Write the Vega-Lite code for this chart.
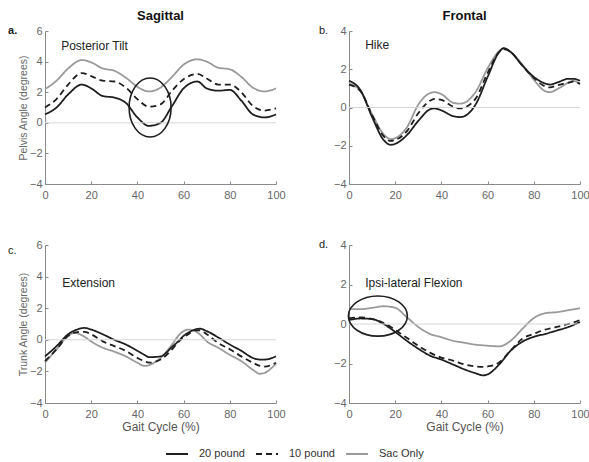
{
"$schema":"https://vega.github.io/schema/vega-lite/v6.json",
"padding":{"left":8,"top":10,"right":2,"bottom":2},
"config":{"font":"Liberation Sans","view":{"stroke":null},
"axis":{"grid":false,"domainColor":"#8a8a8a","tickColor":"#8a8a8a","labelColor":"#666","labelFont":"Liberation Sans","labelFontSize":11,"titleFont":"Liberation Sans","titleFontWeight":"normal","titleColor":"#555","tickSize":-3},
"axisX":{"labelPadding":8},
"axisY":{"labelPadding":6},
"legend":{"orient":"none","legendX":120,"legendY":411,"direction":"horizontal","symbolType":"stroke","symbolSize":484,"labelFontSize":11,"labelColor":"#333","labelOffset":10,"columnPadding":7,"labelFont":"Liberation Sans"},
"title":{"font":"Liberation Sans","fontSize":13,"fontWeight":"bold","color":"#111"}},
"datasets":{"d":[
{"p":"a","s":"Sac Only","x":0,"y":2.2},{"p":"a","s":"Sac Only","x":5,"y":2.75},{"p":"a","s":"Sac Only","x":10,"y":3.55},{"p":"a","s":"Sac Only","x":16,"y":4.1},{"p":"a","s":"Sac Only","x":20,"y":3.95},{"p":"a","s":"Sac Only","x":25,"y":3.55},{"p":"a","s":"Sac Only","x":30,"y":3.4},{"p":"a","s":"Sac Only","x":35,"y":2.95},{"p":"a","s":"Sac Only","x":40,"y":2.35},{"p":"a","s":"Sac Only","x":45,"y":2.05},{"p":"a","s":"Sac Only","x":50,"y":2.3},{"p":"a","s":"Sac Only","x":55,"y":3.0},{"p":"a","s":"Sac Only","x":60,"y":3.8},{"p":"a","s":"Sac Only","x":66,"y":4.15},{"p":"a","s":"Sac Only","x":70,"y":4.0},{"p":"a","s":"Sac Only","x":75,"y":3.6},{"p":"a","s":"Sac Only","x":80,"y":3.5},{"p":"a","s":"Sac Only","x":85,"y":3.0},{"p":"a","s":"Sac Only","x":90,"y":2.3},{"p":"a","s":"Sac Only","x":95,"y":2.05},{"p":"a","s":"Sac Only","x":100,"y":2.25},
{"p":"a","s":"10 pound","x":0,"y":1.0},{"p":"a","s":"10 pound","x":5,"y":1.55},{"p":"a","s":"10 pound","x":10,"y":2.5},{"p":"a","s":"10 pound","x":16,"y":3.25},{"p":"a","s":"10 pound","x":20,"y":3.05},{"p":"a","s":"10 pound","x":25,"y":2.75},{"p":"a","s":"10 pound","x":30,"y":2.7},{"p":"a","s":"10 pound","x":35,"y":2.3},{"p":"a","s":"10 pound","x":40,"y":1.55},{"p":"a","s":"10 pound","x":45,"y":1.05},{"p":"a","s":"10 pound","x":50,"y":1.2},{"p":"a","s":"10 pound","x":55,"y":2.1},{"p":"a","s":"10 pound","x":60,"y":2.85},{"p":"a","s":"10 pound","x":66,"y":3.2},{"p":"a","s":"10 pound","x":70,"y":2.9},{"p":"a","s":"10 pound","x":75,"y":2.5},{"p":"a","s":"10 pound","x":80,"y":2.5},{"p":"a","s":"10 pound","x":85,"y":2.0},{"p":"a","s":"10 pound","x":90,"y":1.1},{"p":"a","s":"10 pound","x":95,"y":0.8},{"p":"a","s":"10 pound","x":100,"y":0.95},
{"p":"a","s":"20 pound","x":0,"y":0.55},{"p":"a","s":"20 pound","x":5,"y":1.0},{"p":"a","s":"20 pound","x":10,"y":1.85},{"p":"a","s":"20 pound","x":16,"y":2.5},{"p":"a","s":"20 pound","x":20,"y":2.25},{"p":"a","s":"20 pound","x":25,"y":1.75},{"p":"a","s":"20 pound","x":30,"y":1.65},{"p":"a","s":"20 pound","x":35,"y":1.3},{"p":"a","s":"20 pound","x":40,"y":0.35},{"p":"a","s":"20 pound","x":45,"y":-0.2},{"p":"a","s":"20 pound","x":50,"y":0.0},{"p":"a","s":"20 pound","x":55,"y":1.1},{"p":"a","s":"20 pound","x":60,"y":2.25},{"p":"a","s":"20 pound","x":66,"y":2.7},{"p":"a","s":"20 pound","x":70,"y":2.25},{"p":"a","s":"20 pound","x":75,"y":2.1},{"p":"a","s":"20 pound","x":80,"y":2.15},{"p":"a","s":"20 pound","x":85,"y":1.45},{"p":"a","s":"20 pound","x":90,"y":0.55},{"p":"a","s":"20 pound","x":95,"y":0.35},{"p":"a","s":"20 pound","x":100,"y":0.55},
{"p":"b","s":"Sac Only","x":0,"y":1.25},{"p":"b","s":"Sac Only","x":5,"y":0.85},{"p":"b","s":"Sac Only","x":10,"y":-0.35},{"p":"b","s":"Sac Only","x":15,"y":-1.4},{"p":"b","s":"Sac Only","x":18,"y":-1.65},{"p":"b","s":"Sac Only","x":20,"y":-1.6},{"p":"b","s":"Sac Only","x":25,"y":-1.05},{"p":"b","s":"Sac Only","x":30,"y":0.15},{"p":"b","s":"Sac Only","x":35,"y":0.75},{"p":"b","s":"Sac Only","x":37,"y":0.8},{"p":"b","s":"Sac Only","x":40,"y":0.7},{"p":"b","s":"Sac Only","x":45,"y":0.25},{"p":"b","s":"Sac Only","x":48,"y":0.2},{"p":"b","s":"Sac Only","x":50,"y":0.25},{"p":"b","s":"Sac Only","x":55,"y":0.85},{"p":"b","s":"Sac Only","x":60,"y":2.05},{"p":"b","s":"Sac Only","x":65,"y":2.95},{"p":"b","s":"Sac Only","x":67,"y":3.1},{"p":"b","s":"Sac Only","x":70,"y":2.9},{"p":"b","s":"Sac Only","x":75,"y":2.25},{"p":"b","s":"Sac Only","x":80,"y":1.45},{"p":"b","s":"Sac Only","x":85,"y":0.85},{"p":"b","s":"Sac Only","x":87,"y":0.8},{"p":"b","s":"Sac Only","x":90,"y":0.95},{"p":"b","s":"Sac Only","x":95,"y":1.3},{"p":"b","s":"Sac Only","x":97,"y":1.4},{"p":"b","s":"Sac Only","x":100,"y":1.2},
{"p":"b","s":"10 pound","x":0,"y":1.2},{"p":"b","s":"10 pound","x":5,"y":0.85},{"p":"b","s":"10 pound","x":10,"y":-0.4},{"p":"b","s":"10 pound","x":15,"y":-1.5},{"p":"b","s":"10 pound","x":18,"y":-1.75},{"p":"b","s":"10 pound","x":20,"y":-1.7},{"p":"b","s":"10 pound","x":25,"y":-1.25},{"p":"b","s":"10 pound","x":30,"y":-0.3},{"p":"b","s":"10 pound","x":35,"y":0.35},{"p":"b","s":"10 pound","x":37,"y":0.45},{"p":"b","s":"10 pound","x":40,"y":0.4},{"p":"b","s":"10 pound","x":45,"y":0.05},{"p":"b","s":"10 pound","x":48,"y":-0.05},{"p":"b","s":"10 pound","x":50,"y":0.0},{"p":"b","s":"10 pound","x":55,"y":0.5},{"p":"b","s":"10 pound","x":60,"y":1.8},{"p":"b","s":"10 pound","x":65,"y":2.9},{"p":"b","s":"10 pound","x":67,"y":3.05},{"p":"b","s":"10 pound","x":70,"y":2.9},{"p":"b","s":"10 pound","x":75,"y":2.2},{"p":"b","s":"10 pound","x":80,"y":1.55},{"p":"b","s":"10 pound","x":85,"y":1.1},{"p":"b","s":"10 pound","x":87,"y":1.05},{"p":"b","s":"10 pound","x":90,"y":1.15},{"p":"b","s":"10 pound","x":95,"y":1.3},{"p":"b","s":"10 pound","x":97,"y":1.35},{"p":"b","s":"10 pound","x":100,"y":1.25},
{"p":"b","s":"20 pound","x":0,"y":1.4},{"p":"b","s":"20 pound","x":5,"y":0.9},{"p":"b","s":"20 pound","x":10,"y":-0.5},{"p":"b","s":"20 pound","x":15,"y":-1.7},{"p":"b","s":"20 pound","x":18,"y":-1.95},{"p":"b","s":"20 pound","x":20,"y":-1.9},{"p":"b","s":"20 pound","x":25,"y":-1.45},{"p":"b","s":"20 pound","x":30,"y":-0.7},{"p":"b","s":"20 pound","x":35,"y":-0.1},{"p":"b","s":"20 pound","x":37,"y":-0.05},{"p":"b","s":"20 pound","x":40,"y":-0.15},{"p":"b","s":"20 pound","x":45,"y":-0.45},{"p":"b","s":"20 pound","x":48,"y":-0.5},{"p":"b","s":"20 pound","x":50,"y":-0.45},{"p":"b","s":"20 pound","x":55,"y":0.2},{"p":"b","s":"20 pound","x":60,"y":1.6},{"p":"b","s":"20 pound","x":65,"y":2.9},{"p":"b","s":"20 pound","x":67,"y":3.1},{"p":"b","s":"20 pound","x":70,"y":2.9},{"p":"b","s":"20 pound","x":75,"y":2.2},{"p":"b","s":"20 pound","x":80,"y":1.6},{"p":"b","s":"20 pound","x":85,"y":1.25},{"p":"b","s":"20 pound","x":87,"y":1.2},{"p":"b","s":"20 pound","x":90,"y":1.3},{"p":"b","s":"20 pound","x":95,"y":1.5},{"p":"b","s":"20 pound","x":97,"y":1.5},{"p":"b","s":"20 pound","x":100,"y":1.4},
{"p":"c","s":"Sac Only","x":0,"y":-1.45},{"p":"c","s":"Sac Only","x":5,"y":-0.6},{"p":"c","s":"Sac Only","x":10,"y":0.25},{"p":"c","s":"Sac Only","x":13,"y":0.45},{"p":"c","s":"Sac Only","x":15,"y":0.35},{"p":"c","s":"Sac Only","x":17,"y":0.2},{"p":"c","s":"Sac Only","x":20,"y":-0.1},{"p":"c","s":"Sac Only","x":25,"y":-0.5},{"p":"c","s":"Sac Only","x":30,"y":-0.75},{"p":"c","s":"Sac Only","x":35,"y":-1.05},{"p":"c","s":"Sac Only","x":40,"y":-1.45},{"p":"c","s":"Sac Only","x":43,"y":-1.65},{"p":"c","s":"Sac Only","x":45,"y":-1.6},{"p":"c","s":"Sac Only","x":50,"y":-1.15},{"p":"c","s":"Sac Only","x":55,"y":-0.3},{"p":"c","s":"Sac Only","x":58,"y":0.3},{"p":"c","s":"Sac Only","x":60,"y":0.55},{"p":"c","s":"Sac Only","x":62,"y":0.65},{"p":"c","s":"Sac Only","x":65,"y":0.55},{"p":"c","s":"Sac Only","x":67,"y":0.35},{"p":"c","s":"Sac Only","x":70,"y":-0.1},{"p":"c","s":"Sac Only","x":75,"y":-0.5},{"p":"c","s":"Sac Only","x":80,"y":-0.95},{"p":"c","s":"Sac Only","x":85,"y":-1.35},{"p":"c","s":"Sac Only","x":90,"y":-1.9},{"p":"c","s":"Sac Only","x":93,"y":-2.15},{"p":"c","s":"Sac Only","x":95,"y":-2.1},{"p":"c","s":"Sac Only","x":100,"y":-1.5},
{"p":"c","s":"10 pound","x":0,"y":-1.35},{"p":"c","s":"10 pound","x":5,"y":-0.6},{"p":"c","s":"10 pound","x":10,"y":0.25},{"p":"c","s":"10 pound","x":13,"y":0.45},{"p":"c","s":"10 pound","x":15,"y":0.5},{"p":"c","s":"10 pound","x":17,"y":0.5},{"p":"c","s":"10 pound","x":20,"y":0.35},{"p":"c","s":"10 pound","x":25,"y":-0.1},{"p":"c","s":"10 pound","x":30,"y":-0.4},{"p":"c","s":"10 pound","x":35,"y":-0.7},{"p":"c","s":"10 pound","x":40,"y":-1.15},{"p":"c","s":"10 pound","x":43,"y":-1.35},{"p":"c","s":"10 pound","x":45,"y":-1.45},{"p":"c","s":"10 pound","x":50,"y":-1.25},{"p":"c","s":"10 pound","x":55,"y":-0.6},{"p":"c","s":"10 pound","x":58,"y":-0.1},{"p":"c","s":"10 pound","x":60,"y":0.15},{"p":"c","s":"10 pound","x":62,"y":0.35},{"p":"c","s":"10 pound","x":65,"y":0.6},{"p":"c","s":"10 pound","x":67,"y":0.6},{"p":"c","s":"10 pound","x":70,"y":0.35},{"p":"c","s":"10 pound","x":75,"y":-0.2},{"p":"c","s":"10 pound","x":80,"y":-0.6},{"p":"c","s":"10 pound","x":85,"y":-1.05},{"p":"c","s":"10 pound","x":90,"y":-1.45},{"p":"c","s":"10 pound","x":93,"y":-1.65},{"p":"c","s":"10 pound","x":95,"y":-1.7},{"p":"c","s":"10 pound","x":100,"y":-1.45},
{"p":"c","s":"20 pound","x":0,"y":-1.05},{"p":"c","s":"20 pound","x":5,"y":-0.4},{"p":"c","s":"20 pound","x":10,"y":0.35},{"p":"c","s":"20 pound","x":13,"y":0.6},{"p":"c","s":"20 pound","x":15,"y":0.7},{"p":"c","s":"20 pound","x":17,"y":0.75},{"p":"c","s":"20 pound","x":20,"y":0.65},{"p":"c","s":"20 pound","x":25,"y":0.35},{"p":"c","s":"20 pound","x":30,"y":0.0},{"p":"c","s":"20 pound","x":35,"y":-0.3},{"p":"c","s":"20 pound","x":40,"y":-0.7},{"p":"c","s":"20 pound","x":43,"y":-0.95},{"p":"c","s":"20 pound","x":45,"y":-1.1},{"p":"c","s":"20 pound","x":50,"y":-1.05},{"p":"c","s":"20 pound","x":55,"y":-0.45},{"p":"c","s":"20 pound","x":58,"y":-0.05},{"p":"c","s":"20 pound","x":60,"y":0.25},{"p":"c","s":"20 pound","x":62,"y":0.45},{"p":"c","s":"20 pound","x":65,"y":0.65},{"p":"c","s":"20 pound","x":67,"y":0.7},{"p":"c","s":"20 pound","x":70,"y":0.55},{"p":"c","s":"20 pound","x":75,"y":0.15},{"p":"c","s":"20 pound","x":80,"y":-0.3},{"p":"c","s":"20 pound","x":85,"y":-0.7},{"p":"c","s":"20 pound","x":90,"y":-1.15},{"p":"c","s":"20 pound","x":93,"y":-1.25},{"p":"c","s":"20 pound","x":95,"y":-1.25},{"p":"c","s":"20 pound","x":100,"y":-1.05},
{"p":"d","s":"Sac Only","x":0,"y":0.75},{"p":"d","s":"Sac Only","x":5,"y":0.75},{"p":"d","s":"Sac Only","x":10,"y":0.82},{"p":"d","s":"Sac Only","x":15,"y":0.9},{"p":"d","s":"Sac Only","x":20,"y":0.82},{"p":"d","s":"Sac Only","x":25,"y":0.35},{"p":"d","s":"Sac Only","x":30,"y":-0.15},{"p":"d","s":"Sac Only","x":35,"y":-0.5},{"p":"d","s":"Sac Only","x":40,"y":-0.67},{"p":"d","s":"Sac Only","x":45,"y":-0.85},{"p":"d","s":"Sac Only","x":50,"y":-0.95},{"p":"d","s":"Sac Only","x":55,"y":-1.05},{"p":"d","s":"Sac Only","x":58,"y":-1.08},{"p":"d","s":"Sac Only","x":60,"y":-1.1},{"p":"d","s":"Sac Only","x":65,"y":-1.13},{"p":"d","s":"Sac Only","x":70,"y":-0.85},{"p":"d","s":"Sac Only","x":75,"y":-0.25},{"p":"d","s":"Sac Only","x":80,"y":0.3},{"p":"d","s":"Sac Only","x":85,"y":0.55},{"p":"d","s":"Sac Only","x":90,"y":0.6},{"p":"d","s":"Sac Only","x":95,"y":0.7},{"p":"d","s":"Sac Only","x":100,"y":0.8},
{"p":"d","s":"10 pound","x":0,"y":0.3},{"p":"d","s":"10 pound","x":5,"y":0.33},{"p":"d","s":"10 pound","x":10,"y":0.25},{"p":"d","s":"10 pound","x":15,"y":0.05},{"p":"d","s":"10 pound","x":20,"y":-0.3},{"p":"d","s":"10 pound","x":25,"y":-0.7},{"p":"d","s":"10 pound","x":30,"y":-1.1},{"p":"d","s":"10 pound","x":35,"y":-1.45},{"p":"d","s":"10 pound","x":40,"y":-1.7},{"p":"d","s":"10 pound","x":45,"y":-1.85},{"p":"d","s":"10 pound","x":50,"y":-2.05},{"p":"d","s":"10 pound","x":55,"y":-2.15},{"p":"d","s":"10 pound","x":58,"y":-2.17},{"p":"d","s":"10 pound","x":60,"y":-2.15},{"p":"d","s":"10 pound","x":65,"y":-1.95},{"p":"d","s":"10 pound","x":70,"y":-1.35},{"p":"d","s":"10 pound","x":75,"y":-0.75},{"p":"d","s":"10 pound","x":80,"y":-0.5},{"p":"d","s":"10 pound","x":85,"y":-0.28},{"p":"d","s":"10 pound","x":90,"y":-0.15},{"p":"d","s":"10 pound","x":95,"y":0.0},{"p":"d","s":"10 pound","x":100,"y":0.2},
{"p":"d","s":"20 pound","x":0,"y":0.2},{"p":"d","s":"20 pound","x":5,"y":0.28},{"p":"d","s":"20 pound","x":10,"y":0.25},{"p":"d","s":"20 pound","x":15,"y":0.0},{"p":"d","s":"20 pound","x":20,"y":-0.4},{"p":"d","s":"20 pound","x":25,"y":-0.85},{"p":"d","s":"20 pound","x":30,"y":-1.25},{"p":"d","s":"20 pound","x":35,"y":-1.6},{"p":"d","s":"20 pound","x":40,"y":-1.8},{"p":"d","s":"20 pound","x":45,"y":-2.05},{"p":"d","s":"20 pound","x":50,"y":-2.3},{"p":"d","s":"20 pound","x":55,"y":-2.5},{"p":"d","s":"20 pound","x":58,"y":-2.6},{"p":"d","s":"20 pound","x":60,"y":-2.55},{"p":"d","s":"20 pound","x":65,"y":-2.05},{"p":"d","s":"20 pound","x":70,"y":-1.35},{"p":"d","s":"20 pound","x":75,"y":-0.9},{"p":"d","s":"20 pound","x":80,"y":-0.65},{"p":"d","s":"20 pound","x":85,"y":-0.5},{"p":"d","s":"20 pound","x":90,"y":-0.33},{"p":"d","s":"20 pound","x":95,"y":-0.15},{"p":"d","s":"20 pound","x":100,"y":0.1}
]},
"resolve":{"scale":{"color":"shared","strokeDash":"shared","strokeWidth":"shared"}},
"spacing":39,
"vconcat":[
{"hconcat":[
{"width":231,"height":153,"title":{"text":"Sagittal","offset":2},
"layer":[
{"data":{"name":"d"},"transform":[{"filter":"datum.p==='a'"}],"mark":{"type":"line","interpolate":"monotone"},
"encoding":{"x":{"field":"x","type":"quantitative","scale":{"domain":[0,100]},"axis":{"values":[0,20,40,60,80,100],"labelFlush":false,"title":null}},
"y":{"field":"y","type":"quantitative","scale":{"domain":[-4,6]},"axis":{"values":[-4,-2,0,2,4,6],"title":"Pelvis Angle (degrees)","titleFontSize":10.5,"titleColor":"#666","titlePadding":1}},
"color":{"field":"s","type":"nominal","title":null,"scale":{"domain":["20 pound","10 pound","Sac Only"],"range":["#1e1e1e","#1e1e1e","#9a9a9a"]}},
"strokeDash":{"field":"s","type":"nominal","title":null,"scale":{"domain":["20 pound","10 pound","Sac Only"],"range":[[1,0],[6,4],[1,0]]}},
"strokeWidth":{"field":"s","type":"nominal","title":null,"scale":{"domain":["20 pound","10 pound","Sac Only"],"range":[1.8,1.8,1.4]}},
"order":{"field":"x","type":"quantitative"}}},
{"data":{"values":[{}]},"mark":{"type":"rule","color":"#d6d6d6","strokeWidth":1},"encoding":{"y":{"datum":0,"type":"quantitative","scale":{"domain":[-4,6]},"axis":{"values":[-4,-2,0,2,4,6],"title":"Pelvis Angle (degrees)","titleFontSize":10.5,"titleColor":"#666","titlePadding":1}}}},
{"data":{"values":[{}]},"mark":{"type":"point","shape":"M -0.712 0 A 0.712 1 0 1 1 0.712 0 A 0.712 1 0 1 1 -0.712 0 Z","size":3481,"filled":false,"stroke":"#1e1e1e","strokeWidth":1.6,"opacity":1},
"encoding":{"x":{"datum":45.5,"type":"quantitative","scale":{"domain":[0,100]},"axis":{"values":[0,20,40,60,80,100],"labelFlush":false,"title":null}},"y":{"datum":1.0,"type":"quantitative","scale":{"domain":[-4,6]},"axis":{"values":[-4,-2,0,2,4,6],"title":"Pelvis Angle (degrees)","titleFontSize":10.5,"titleColor":"#666","titlePadding":1}}}},
{"data":{"values":[{}]},"mark":{"type":"text","align":"left","baseline":"middle","fontSize":12,"color":"#222"},
"encoding":{"x":{"datum":7,"type":"quantitative","scale":{"domain":[0,100]},"axis":{"values":[0,20,40,60,80,100],"labelFlush":false,"title":null}},"y":{"datum":5,"type":"quantitative","scale":{"domain":[-4,6]},"axis":{"values":[-4,-2,0,2,4,6],"title":"Pelvis Angle (degrees)","titleFontSize":10.5,"titleColor":"#666","titlePadding":1}},"text":{"value":"Posterior Tilt"}}},
{"data":{"values":[{}]},"mark":{"type":"text","align":"left","baseline":"middle","fontSize":11,"fontWeight":"bold","color":"#222"},
"encoding":{"x":{"datum":-16,"type":"quantitative","scale":{"domain":[0,100]},"axis":{"values":[0,20,40,60,80,100],"labelFlush":false,"title":null}},"y":{"datum":6,"type":"quantitative","scale":{"domain":[-4,6]},"axis":{"values":[-4,-2,0,2,4,6],"title":"Pelvis Angle (degrees)","titleFontSize":10.5,"titleColor":"#666","titlePadding":1}},"text":{"value":"a."}}}
]},
{"width":231,"height":153,"title":{"text":"Frontal","offset":2},
"layer":[
{"data":{"name":"d"},"transform":[{"filter":"datum.p==='b'"}],"mark":{"type":"line","interpolate":"monotone"},
"encoding":{"x":{"field":"x","type":"quantitative","scale":{"domain":[0,100]},"axis":{"values":[0,20,40,60,80,100],"labelFlush":false,"title":null}},
"y":{"field":"y","type":"quantitative","scale":{"domain":[-4,4]},"axis":{"values":[-4,-2,0,2,4],"title":null}},
"color":{"field":"s","type":"nominal","title":null,"scale":{"domain":["20 pound","10 pound","Sac Only"],"range":["#1e1e1e","#1e1e1e","#9a9a9a"]}},
"strokeDash":{"field":"s","type":"nominal","title":null,"scale":{"domain":["20 pound","10 pound","Sac Only"],"range":[[1,0],[6,4],[1,0]]}},
"strokeWidth":{"field":"s","type":"nominal","title":null,"scale":{"domain":["20 pound","10 pound","Sac Only"],"range":[1.8,1.8,1.4]}},
"order":{"field":"x","type":"quantitative"}}},
{"data":{"values":[{}]},"mark":{"type":"rule","color":"#d6d6d6","strokeWidth":1},"encoding":{"y":{"datum":0,"type":"quantitative","scale":{"domain":[-4,4]},"axis":{"values":[-4,-2,0,2,4],"title":null}}}},
{"data":{"values":[{}]},"mark":{"type":"text","align":"left","baseline":"middle","fontSize":12,"color":"#222"},
"encoding":{"x":{"datum":7,"type":"quantitative","scale":{"domain":[0,100]},"axis":{"values":[0,20,40,60,80,100],"labelFlush":false,"title":null}},"y":{"datum":3.27,"type":"quantitative","scale":{"domain":[-4,4]},"axis":{"values":[-4,-2,0,2,4],"title":null}},"text":{"value":"Hike"}}},
{"data":{"values":[{}]},"mark":{"type":"text","align":"left","baseline":"middle","fontSize":11,"color":"#222"},
"encoding":{"x":{"datum":-13,"type":"quantitative","scale":{"domain":[0,100]},"axis":{"values":[0,20,40,60,80,100],"labelFlush":false,"title":null}},"y":{"datum":4,"type":"quantitative","scale":{"domain":[-4,4]},"axis":{"values":[-4,-2,0,2,4],"title":null}},"text":{"value":"b."}}}
]}
],"spacing":32},
{"hconcat":[
{"width":231,"height":158,
"layer":[
{"data":{"name":"d"},"transform":[{"filter":"datum.p==='c'"}],"mark":{"type":"line","interpolate":"monotone"},
"encoding":{"x":{"field":"x","type":"quantitative","scale":{"domain":[0,100]},"axis":{"values":[0,20,40,60,80,100],"labelFlush":false,"title":"Gait Cycle (%)","titleFontSize":12,"titlePadding":2}},
"y":{"field":"y","type":"quantitative","scale":{"domain":[-4,6]},"axis":{"values":[-4,-2,0,2,4,6],"title":"Trunk Angle (degrees)","titleFontSize":10.5,"titleColor":"#666","titlePadding":1}},
"color":{"field":"s","type":"nominal","title":null,"scale":{"domain":["20 pound","10 pound","Sac Only"],"range":["#1e1e1e","#1e1e1e","#9a9a9a"]}},
"strokeDash":{"field":"s","type":"nominal","title":null,"scale":{"domain":["20 pound","10 pound","Sac Only"],"range":[[1,0],[6,4],[1,0]]}},
"strokeWidth":{"field":"s","type":"nominal","title":null,"scale":{"domain":["20 pound","10 pound","Sac Only"],"range":[1.8,1.8,1.4]}},
"order":{"field":"x","type":"quantitative"}}},
{"data":{"values":[{}]},"mark":{"type":"rule","color":"#d6d6d6","strokeWidth":1},"encoding":{"y":{"datum":0,"type":"quantitative","scale":{"domain":[-4,6]},"axis":{"values":[-4,-2,0,2,4,6],"title":"Trunk Angle (degrees)","titleFontSize":10.5,"titleColor":"#666","titlePadding":1}}}},
{"data":{"values":[{}]},"mark":{"type":"text","align":"left","baseline":"middle","fontSize":12,"color":"#222"},
"encoding":{"x":{"datum":7.5,"type":"quantitative","scale":{"domain":[0,100]},"axis":{"values":[0,20,40,60,80,100],"labelFlush":false,"title":"Gait Cycle (%)","titleFontSize":12,"titlePadding":2}},"y":{"datum":3.6,"type":"quantitative","scale":{"domain":[-4,6]},"axis":{"values":[-4,-2,0,2,4,6],"title":"Trunk Angle (degrees)","titleFontSize":10.5,"titleColor":"#666","titlePadding":1}},"text":{"value":"Extension"}}},
{"data":{"values":[{}]},"mark":{"type":"text","align":"left","baseline":"middle","fontSize":11,"color":"#222"},
"encoding":{"x":{"datum":-16,"type":"quantitative","scale":{"domain":[0,100]},"axis":{"values":[0,20,40,60,80,100],"labelFlush":false,"title":"Gait Cycle (%)","titleFontSize":12,"titlePadding":2}},"y":{"datum":5.6,"type":"quantitative","scale":{"domain":[-4,6]},"axis":{"values":[-4,-2,0,2,4,6],"title":"Trunk Angle (degrees)","titleFontSize":10.5,"titleColor":"#666","titlePadding":1}},"text":{"value":"c."}}}
]},
{"width":231,"height":158,
"layer":[
{"data":{"name":"d"},"transform":[{"filter":"datum.p==='d'"}],"mark":{"type":"line","interpolate":"monotone"},
"encoding":{"x":{"field":"x","type":"quantitative","scale":{"domain":[0,100]},"axis":{"values":[0,20,40,60,80,100],"labelFlush":false,"title":"Gait Cycle (%)","titleFontSize":12,"titlePadding":2}},
"y":{"field":"y","type":"quantitative","scale":{"domain":[-4,4]},"axis":{"values":[-4,-2,0,2,4],"title":null}},
"color":{"field":"s","type":"nominal","title":null,"scale":{"domain":["20 pound","10 pound","Sac Only"],"range":["#1e1e1e","#1e1e1e","#9a9a9a"]}},
"strokeDash":{"field":"s","type":"nominal","title":null,"scale":{"domain":["20 pound","10 pound","Sac Only"],"range":[[1,0],[6,4],[1,0]]}},
"strokeWidth":{"field":"s","type":"nominal","title":null,"scale":{"domain":["20 pound","10 pound","Sac Only"],"range":[1.8,1.8,1.4]}},
"order":{"field":"x","type":"quantitative"}}},
{"data":{"values":[{}]},"mark":{"type":"rule","color":"#d6d6d6","strokeWidth":1},"encoding":{"y":{"datum":0,"type":"quantitative","scale":{"domain":[-4,4]},"axis":{"values":[-4,-2,0,2,4],"title":null}}}},
{"data":{"values":[{}]},"mark":{"type":"point","shape":"M -1 0 A 1 0.68 0 1 1 1 0 A 1 0.68 0 1 1 -1 0 Z","size":3481,"filled":false,"stroke":"#1e1e1e","strokeWidth":1.6,"opacity":1},
"encoding":{"x":{"datum":12.5,"type":"quantitative","scale":{"domain":[0,100]},"axis":{"values":[0,20,40,60,80,100],"labelFlush":false,"title":"Gait Cycle (%)","titleFontSize":12,"titlePadding":2}},"y":{"datum":0.4,"type":"quantitative","scale":{"domain":[-4,4]},"axis":{"values":[-4,-2,0,2,4],"title":null}}}},
{"data":{"values":[{}]},"mark":{"type":"text","align":"left","baseline":"middle","fontSize":12,"color":"#222"},
"encoding":{"x":{"datum":7,"type":"quantitative","scale":{"domain":[0,100]},"axis":{"values":[0,20,40,60,80,100],"labelFlush":false,"title":"Gait Cycle (%)","titleFontSize":12,"titlePadding":2}},"y":{"datum":2.1,"type":"quantitative","scale":{"domain":[-4,4]},"axis":{"values":[-4,-2,0,2,4],"title":null}},"text":{"value":"Ipsi-lateral Flexion"}}},
{"data":{"values":[{}]},"mark":{"type":"text","align":"left","baseline":"middle","fontSize":11,"color":"#222"},
"encoding":{"x":{"datum":-13,"type":"quantitative","scale":{"domain":[0,100]},"axis":{"values":[0,20,40,60,80,100],"labelFlush":false,"title":"Gait Cycle (%)","titleFontSize":12,"titlePadding":2}},"y":{"datum":4,"type":"quantitative","scale":{"domain":[-4,4]},"axis":{"values":[-4,-2,0,2,4],"title":null}},"text":{"value":"d."}}}
]}
],"spacing":32}
]
}
